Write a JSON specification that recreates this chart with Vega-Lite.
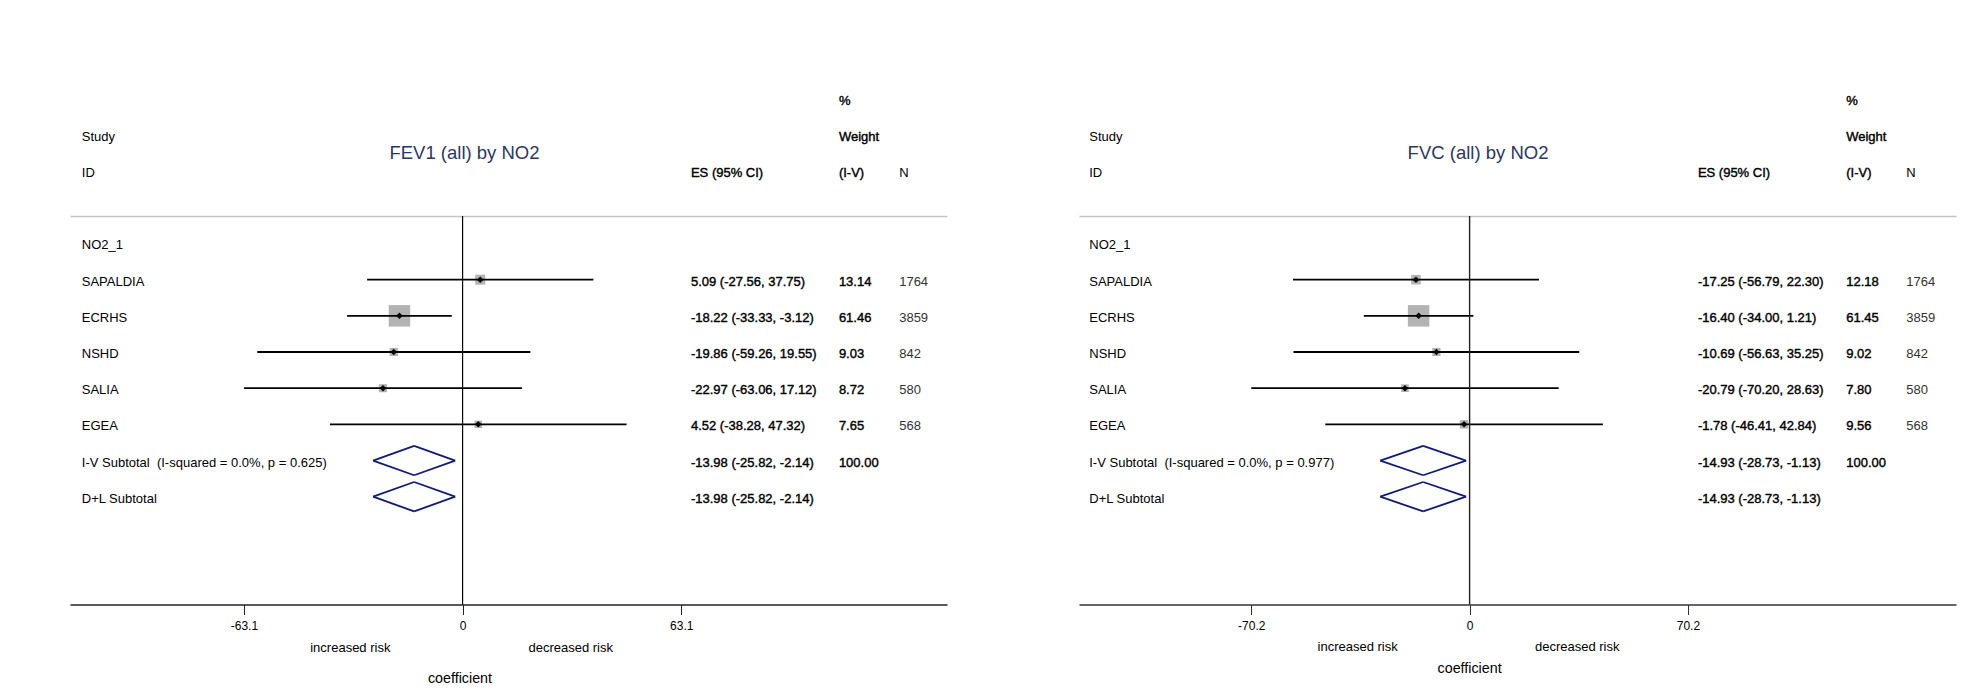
{
  "$schema": "https://vega.github.io/schema/vega-lite/v6.json",
  "padding": {"left": 70, "top": 94, "right": 10, "bottom": 5},
  "spacing": 132,
  "datasets": {
    "fev1": [
      {"row": 1, "label": "NO2_1", "type": "group"},
      {"row": 2, "label": "SAPALDIA", "type": "study", "es": 5.09, "lo": -27.56, "hi": 37.75, "ci": "5.09 (-27.56, 37.75)", "weight": 13.14, "n": 1764},
      {"row": 3, "label": "ECRHS", "type": "study", "es": -18.22, "lo": -33.33, "hi": -3.12, "ci": "-18.22 (-33.33, -3.12)", "weight": 61.46, "n": 3859},
      {"row": 4, "label": "NSHD", "type": "study", "es": -19.86, "lo": -59.26, "hi": 19.55, "ci": "-19.86 (-59.26, 19.55)", "weight": 9.03, "n": 842},
      {"row": 5, "label": "SALIA", "type": "study", "es": -22.97, "lo": -63.06, "hi": 17.12, "ci": "-22.97 (-63.06, 17.12)", "weight": 8.72, "n": 580},
      {"row": 6, "label": "EGEA", "type": "study", "es": 4.52, "lo": -38.28, "hi": 47.32, "ci": "4.52 (-38.28, 47.32)", "weight": 7.65, "n": 568},
      {"row": 7, "label": "I-V Subtotal\u00a0 (I-squared = 0.0%, p = 0.625)", "type": "pooled", "es": -13.98, "lo": -25.82, "hi": -2.14, "ci": "-13.98 (-25.82, -2.14)", "weight": 100.0},
      {"row": 8, "label": "D+L Subtotal", "type": "pooled", "es": -13.98, "lo": -25.82, "hi": -2.14, "ci": "-13.98 (-25.82, -2.14)"}
    ],
    "fvc": [
      {"row": 1, "label": "NO2_1", "type": "group"},
      {"row": 2, "label": "SAPALDIA", "type": "study", "es": -17.25, "lo": -56.79, "hi": 22.30, "ci": "-17.25 (-56.79, 22.30)", "weight": 12.18, "n": 1764},
      {"row": 3, "label": "ECRHS", "type": "study", "es": -16.40, "lo": -34.00, "hi": 1.21, "ci": "-16.40 (-34.00, 1.21)", "weight": 61.45, "n": 3859},
      {"row": 4, "label": "NSHD", "type": "study", "es": -10.69, "lo": -56.63, "hi": 35.25, "ci": "-10.69 (-56.63, 35.25)", "weight": 9.02, "n": 842},
      {"row": 5, "label": "SALIA", "type": "study", "es": -20.79, "lo": -70.20, "hi": 28.63, "ci": "-20.79 (-70.20, 28.63)", "weight": 7.80, "n": 580},
      {"row": 6, "label": "EGEA", "type": "study", "es": -1.78, "lo": -46.41, "hi": 42.84, "ci": "-1.78 (-46.41, 42.84)", "weight": 9.56, "n": 568},
      {"row": 7, "label": "I-V Subtotal\u00a0 (I-squared = 0.0%, p = 0.977)", "type": "pooled", "es": -14.93, "lo": -28.73, "hi": -1.13, "ci": "-14.93 (-28.73, -1.13)", "weight": 100.0},
      {"row": 8, "label": "D+L Subtotal", "type": "pooled", "es": -14.93, "lo": -28.73, "hi": -1.13, "ci": "-14.93 (-28.73, -1.13)"}
    ],
    "headers": [
      {"row": -3, "study": "", "es": "", "w": "%", "n": ""},
      {"row": -2, "study": "Study", "es": "", "w": "Weight", "n": ""},
      {"row": -1, "study": "ID", "es": "ES (95% CI)", "w": "(I-V)", "n": "N"}
    ]
  },
  "hconcat": [
    {
      "width": 877,
      "height": 388.5,
      "data": {"name": "fev1"},
      "resolve": {"axis": {"x": "independent"}},
      "layer": [
        {
          "transform": [{"filter": "datum.type == 'study'"}],
          "mark": {"type": "square", "color": "#b3b3b3", "filled": true, "opacity": 1},
          "encoding": {
            "x": {"field": "es", "type": "quantitative", "scale": {"domain": [-113.3, 139.8], "nice": false, "zero": false}, "axis": null},
            "y": {"field": "row", "type": "quantitative", "scale": {"domain": [0.24, 10.98], "reverse": true, "nice": false, "zero": false}, "axis": null},
            "size": {"field": "weight", "type": "quantitative", "scale": {"type": "linear", "domain": [0, 61.46], "range": [0, 462]}, "legend": null}
          }
        },
        {
          "transform": [{"filter": "datum.type == 'study'"}],
          "mark": {"type": "rule", "color": "#000000", "strokeWidth": 1.8},
          "encoding": {
            "x": {"field": "lo", "type": "quantitative", "scale": {"domain": [-113.3, 139.8], "nice": false, "zero": false},
              "axis": {"values": [-63.1, 0, 63.1], "format": ".1~f", "labelExpr": "replace(datum.label, '\u2212', '-')", "title": null, "grid": false, "domainColor": "#222222", "domainWidth": 1.5, "tickColor": "#222222", "tickSize": 10, "tickWidth": 1, "labelFontSize": 12, "labelColor": "#000000", "labelPadding": 6, "labelFont": "Liberation Sans"}},
            "x2": {"field": "hi"},
            "y": {"field": "row", "type": "quantitative", "scale": {"domain": [0.24, 10.98], "reverse": true, "nice": false, "zero": false}, "axis": null}
          }
        },
        {
          "transform": [{"filter": "datum.type == 'study'"}],
          "mark": {"type": "point", "shape": "diamond", "filled": true, "color": "#000000", "size": 42, "opacity": 1},
          "encoding": {
            "x": {"field": "es", "type": "quantitative", "scale": {"domain": [-113.3, 139.8], "nice": false, "zero": false}, "axis": null},
            "y": {"field": "row", "type": "quantitative", "scale": {"domain": [0.24, 10.98], "reverse": true, "nice": false, "zero": false}, "axis": null}
          }
        },
        {
          "transform": [{"filter": "datum.type == 'pooled'"}],
          "mark": {"type": "rule", "color": "#101a78", "strokeWidth": 1.8, "y2Offset": -14.7},
          "encoding": {
            "x": {"field": "lo", "type": "quantitative", "scale": {"domain": [-113.3, 139.8], "nice": false, "zero": false}, "axis": null},
            "x2": {"field": "es"},
            "y": {"field": "row", "type": "quantitative", "scale": {"domain": [0.24, 10.98], "reverse": true, "nice": false, "zero": false}, "axis": null},
            "y2": {"field": "row"}
          }
        },
        {
          "transform": [{"filter": "datum.type == 'pooled'"}],
          "mark": {"type": "rule", "color": "#101a78", "strokeWidth": 1.8, "y2Offset": 14.7},
          "encoding": {
            "x": {"field": "lo", "type": "quantitative", "scale": {"domain": [-113.3, 139.8], "nice": false, "zero": false}, "axis": null},
            "x2": {"field": "es"},
            "y": {"field": "row", "type": "quantitative", "scale": {"domain": [0.24, 10.98], "reverse": true, "nice": false, "zero": false}, "axis": null},
            "y2": {"field": "row"}
          }
        },
        {
          "transform": [{"filter": "datum.type == 'pooled'"}],
          "mark": {"type": "rule", "color": "#101a78", "strokeWidth": 1.8, "yOffset": -14.7},
          "encoding": {
            "x": {"field": "es", "type": "quantitative", "scale": {"domain": [-113.3, 139.8], "nice": false, "zero": false}, "axis": null},
            "x2": {"field": "hi"},
            "y": {"field": "row", "type": "quantitative", "scale": {"domain": [0.24, 10.98], "reverse": true, "nice": false, "zero": false}, "axis": null},
            "y2": {"field": "row"}
          }
        },
        {
          "transform": [{"filter": "datum.type == 'pooled'"}],
          "mark": {"type": "rule", "color": "#101a78", "strokeWidth": 1.8, "yOffset": 14.7},
          "encoding": {
            "x": {"field": "es", "type": "quantitative", "scale": {"domain": [-113.3, 139.8], "nice": false, "zero": false}, "axis": null},
            "x2": {"field": "hi"},
            "y": {"field": "row", "type": "quantitative", "scale": {"domain": [0.24, 10.98], "reverse": true, "nice": false, "zero": false}, "axis": null},
            "y2": {"field": "row"}
          }
        },
        {
          "data": {"values": [{}]},
          "mark": {"type": "rule", "color": "#000000", "strokeWidth": 1.2},
          "encoding": {
            "x": {"datum": 0, "type": "quantitative", "scale": {"domain": [-113.3, 139.8], "nice": false, "zero": false},
              "axis": {"orient": "top", "domain": true, "domainColor": "#c4c4c4", "domainWidth": 1.5, "ticks": false, "labels": false, "grid": false, "title": null}}
          }
        },
        {
          "mark": {"type": "text", "align": "left", "baseline": "middle", "dy": 2, "fontSize": 13, "color": "#000000"},
          "encoding": {
            "x": {"datum": -109.9, "type": "quantitative", "scale": {"domain": [-113.3, 139.8], "nice": false, "zero": false}, "axis": null},
            "y": {"field": "row", "type": "quantitative", "scale": {"domain": [0.24, 10.98], "reverse": true, "nice": false, "zero": false}, "axis": null},
            "text": {"field": "label", "type": "nominal"}
          }
        },
        {
          "transform": [{"filter": "isValid(datum.ci)"}],
          "mark": {"type": "text", "align": "left", "baseline": "middle", "dy": 2, "fontSize": 13, "color": "#000000", "stroke": "#000000", "strokeWidth": 0.4},
          "encoding": {
            "x": {"datum": 65.9, "type": "quantitative", "scale": {"domain": [-113.3, 139.8], "nice": false, "zero": false}, "axis": null},
            "y": {"field": "row", "type": "quantitative", "scale": {"domain": [0.24, 10.98], "reverse": true, "nice": false, "zero": false}, "axis": null},
            "text": {"field": "ci", "type": "nominal"}
          }
        },
        {
          "transform": [{"filter": "isValid(datum.weight)"}],
          "mark": {"type": "text", "align": "left", "baseline": "middle", "dy": 2, "fontSize": 13, "color": "#000000", "stroke": "#000000", "strokeWidth": 0.4},
          "encoding": {
            "x": {"datum": 108.6, "type": "quantitative", "scale": {"domain": [-113.3, 139.8], "nice": false, "zero": false}, "axis": null},
            "y": {"field": "row", "type": "quantitative", "scale": {"domain": [0.24, 10.98], "reverse": true, "nice": false, "zero": false}, "axis": null},
            "text": {"field": "weight", "type": "quantitative", "format": ".2f"}
          }
        },
        {
          "transform": [{"filter": "isValid(datum.n)"}],
          "mark": {"type": "text", "align": "left", "baseline": "middle", "dy": 2, "fontSize": 13, "color": "#333333"},
          "encoding": {
            "x": {"datum": 126.0, "type": "quantitative", "scale": {"domain": [-113.3, 139.8], "nice": false, "zero": false}, "axis": null},
            "y": {"field": "row", "type": "quantitative", "scale": {"domain": [0.24, 10.98], "reverse": true, "nice": false, "zero": false}, "axis": null},
            "text": {"field": "n", "type": "quantitative", "format": "d"}
          }
        },
        {
          "data": {"name": "headers"},
          "mark": {"type": "text", "align": "left", "baseline": "middle", "dy": 2, "fontSize": 13, "color": "#000000"},
          "encoding": {
            "x": {"datum": -109.9, "type": "quantitative", "scale": {"domain": [-113.3, 139.8], "nice": false, "zero": false}, "axis": null},
            "y": {"field": "row", "type": "quantitative", "scale": {"domain": [0.24, 10.98], "reverse": true, "nice": false, "zero": false}, "axis": null},
            "text": {"field": "study", "type": "nominal"}
          }
        },
        {
          "data": {"name": "headers"},
          "mark": {"type": "text", "align": "left", "baseline": "middle", "dy": 2, "fontSize": 13, "color": "#000000", "stroke": "#000000", "strokeWidth": 0.4},
          "encoding": {
            "x": {"datum": 65.9, "type": "quantitative", "scale": {"domain": [-113.3, 139.8], "nice": false, "zero": false}, "axis": null},
            "y": {"field": "row", "type": "quantitative", "scale": {"domain": [0.24, 10.98], "reverse": true, "nice": false, "zero": false}, "axis": null},
            "text": {"field": "es", "type": "nominal"}
          }
        },
        {
          "data": {"name": "headers"},
          "mark": {"type": "text", "align": "left", "baseline": "middle", "dy": 2, "fontSize": 13, "color": "#000000", "stroke": "#000000", "strokeWidth": 0.4},
          "encoding": {
            "x": {"datum": 108.6, "type": "quantitative", "scale": {"domain": [-113.3, 139.8], "nice": false, "zero": false}, "axis": null},
            "y": {"field": "row", "type": "quantitative", "scale": {"domain": [0.24, 10.98], "reverse": true, "nice": false, "zero": false}, "axis": null},
            "text": {"field": "w", "type": "nominal"}
          }
        },
        {
          "data": {"name": "headers"},
          "mark": {"type": "text", "align": "left", "baseline": "middle", "dy": 2, "fontSize": 13, "color": "#000000"},
          "encoding": {
            "x": {"datum": 126.0, "type": "quantitative", "scale": {"domain": [-113.3, 139.8], "nice": false, "zero": false}, "axis": null},
            "y": {"field": "row", "type": "quantitative", "scale": {"domain": [0.24, 10.98], "reverse": true, "nice": false, "zero": false}, "axis": null},
            "text": {"field": "n", "type": "nominal"}
          }
        },
        {
          "data": {"values": [{}]},
          "mark": {"type": "text", "text": "FEV1 (all) by NO2", "align": "center", "baseline": "middle", "fontSize": 18.5, "color": "#2a3766"},
          "encoding": {
            "x": {"datum": 0.55, "type": "quantitative", "scale": {"domain": [-113.3, 139.8], "nice": false, "zero": false}, "axis": null},
            "y": {"datum": -1.5, "type": "quantitative", "scale": {"domain": [0.24, 10.98], "reverse": true, "nice": false, "zero": false}, "axis": null}
          }
        },
        {
          "data": {"values": [{}]},
          "mark": {"type": "text", "text": "increased risk", "align": "center", "baseline": "middle", "dy": 2, "fontSize": 13, "color": "#000000"},
          "encoding": {
            "x": {"datum": -32.4, "type": "quantitative", "scale": {"domain": [-113.3, 139.8], "nice": false, "zero": false}, "axis": null},
            "y": {"datum": 12.14, "type": "quantitative", "scale": {"domain": [0.24, 10.98], "reverse": true, "nice": false, "zero": false}, "axis": null}
          }
        },
        {
          "data": {"values": [{}]},
          "mark": {"type": "text", "text": "decreased risk", "align": "center", "baseline": "middle", "dy": 2, "fontSize": 13, "color": "#000000"},
          "encoding": {
            "x": {"datum": 31.2, "type": "quantitative", "scale": {"domain": [-113.3, 139.8], "nice": false, "zero": false}, "axis": null},
            "y": {"datum": 12.14, "type": "quantitative", "scale": {"domain": [0.24, 10.98], "reverse": true, "nice": false, "zero": false}, "axis": null}
          }
        },
        {
          "data": {"values": [{}]},
          "mark": {"type": "text", "text": "coefficient", "align": "center", "baseline": "middle", "dy": 2, "fontSize": 14.3, "color": "#000000"},
          "encoding": {
            "x": {"datum": -0.75, "type": "quantitative", "scale": {"domain": [-113.3, 139.8], "nice": false, "zero": false}, "axis": null},
            "y": {"datum": 12.99, "type": "quantitative", "scale": {"domain": [0.24, 10.98], "reverse": true, "nice": false, "zero": false}, "axis": null}
          }
        }
      ]
    },
    {
      "width": 877,
      "height": 388.5,
      "data": {"name": "fvc"},
      "resolve": {"axis": {"x": "independent"}},
      "layer": [
        {
          "transform": [{"filter": "datum.type == 'study'"}],
          "mark": {"type": "square", "color": "#b3b3b3", "filled": true, "opacity": 1},
          "encoding": {
            "x": {"field": "es", "type": "quantitative", "scale": {"domain": [-125.6, 156.4], "nice": false, "zero": false}, "axis": null},
            "y": {"field": "row", "type": "quantitative", "scale": {"domain": [0.24, 10.98], "reverse": true, "nice": false, "zero": false}, "axis": null},
            "size": {"field": "weight", "type": "quantitative", "scale": {"type": "linear", "domain": [0, 61.46], "range": [0, 462]}, "legend": null}
          }
        },
        {
          "transform": [{"filter": "datum.type == 'study'"}],
          "mark": {"type": "rule", "color": "#000000", "strokeWidth": 1.8},
          "encoding": {
            "x": {"field": "lo", "type": "quantitative", "scale": {"domain": [-125.6, 156.4], "nice": false, "zero": false},
              "axis": {"values": [-70.2, 0, 70.2], "format": ".1~f", "labelExpr": "replace(datum.label, '\u2212', '-')", "title": null, "grid": false, "domainColor": "#333333", "domainWidth": 1.6, "tickColor": "#333333", "tickSize": 10, "tickWidth": 1, "labelFontSize": 12, "labelColor": "#000000", "labelPadding": 6, "labelFont": "Liberation Sans"}},
            "x2": {"field": "hi"},
            "y": {"field": "row", "type": "quantitative", "scale": {"domain": [0.24, 10.98], "reverse": true, "nice": false, "zero": false}, "axis": null}
          }
        },
        {
          "transform": [{"filter": "datum.type == 'study'"}],
          "mark": {"type": "point", "shape": "diamond", "filled": true, "color": "#000000", "size": 42, "opacity": 1},
          "encoding": {
            "x": {"field": "es", "type": "quantitative", "scale": {"domain": [-125.6, 156.4], "nice": false, "zero": false}, "axis": null},
            "y": {"field": "row", "type": "quantitative", "scale": {"domain": [0.24, 10.98], "reverse": true, "nice": false, "zero": false}, "axis": null}
          }
        },
        {
          "transform": [{"filter": "datum.type == 'pooled'"}],
          "mark": {"type": "rule", "color": "#101a78", "strokeWidth": 1.8, "y2Offset": -14.7},
          "encoding": {
            "x": {"field": "lo", "type": "quantitative", "scale": {"domain": [-125.6, 156.4], "nice": false, "zero": false}, "axis": null},
            "x2": {"field": "es"},
            "y": {"field": "row", "type": "quantitative", "scale": {"domain": [0.24, 10.98], "reverse": true, "nice": false, "zero": false}, "axis": null},
            "y2": {"field": "row"}
          }
        },
        {
          "transform": [{"filter": "datum.type == 'pooled'"}],
          "mark": {"type": "rule", "color": "#101a78", "strokeWidth": 1.8, "y2Offset": 14.7},
          "encoding": {
            "x": {"field": "lo", "type": "quantitative", "scale": {"domain": [-125.6, 156.4], "nice": false, "zero": false}, "axis": null},
            "x2": {"field": "es"},
            "y": {"field": "row", "type": "quantitative", "scale": {"domain": [0.24, 10.98], "reverse": true, "nice": false, "zero": false}, "axis": null},
            "y2": {"field": "row"}
          }
        },
        {
          "transform": [{"filter": "datum.type == 'pooled'"}],
          "mark": {"type": "rule", "color": "#101a78", "strokeWidth": 1.8, "yOffset": -14.7},
          "encoding": {
            "x": {"field": "es", "type": "quantitative", "scale": {"domain": [-125.6, 156.4], "nice": false, "zero": false}, "axis": null},
            "x2": {"field": "hi"},
            "y": {"field": "row", "type": "quantitative", "scale": {"domain": [0.24, 10.98], "reverse": true, "nice": false, "zero": false}, "axis": null},
            "y2": {"field": "row"}
          }
        },
        {
          "transform": [{"filter": "datum.type == 'pooled'"}],
          "mark": {"type": "rule", "color": "#101a78", "strokeWidth": 1.8, "yOffset": 14.7},
          "encoding": {
            "x": {"field": "es", "type": "quantitative", "scale": {"domain": [-125.6, 156.4], "nice": false, "zero": false}, "axis": null},
            "x2": {"field": "hi"},
            "y": {"field": "row", "type": "quantitative", "scale": {"domain": [0.24, 10.98], "reverse": true, "nice": false, "zero": false}, "axis": null},
            "y2": {"field": "row"}
          }
        },
        {
          "data": {"values": [{}]},
          "mark": {"type": "rule", "color": "#222222", "strokeWidth": 1.4},
          "encoding": {
            "x": {"datum": 0, "type": "quantitative", "scale": {"domain": [-125.6, 156.4], "nice": false, "zero": false},
              "axis": {"orient": "top", "domain": true, "domainColor": "#c4c4c4", "domainWidth": 1.5, "ticks": false, "labels": false, "grid": false, "title": null}}
          }
        },
        {
          "mark": {"type": "text", "align": "left", "baseline": "middle", "dy": 2, "fontSize": 13, "color": "#000000"},
          "encoding": {
            "x": {"datum": -122.3, "type": "quantitative", "scale": {"domain": [-125.6, 156.4], "nice": false, "zero": false}, "axis": null},
            "y": {"field": "row", "type": "quantitative", "scale": {"domain": [0.24, 10.98], "reverse": true, "nice": false, "zero": false}, "axis": null},
            "text": {"field": "label", "type": "nominal"}
          }
        },
        {
          "transform": [{"filter": "isValid(datum.ci)"}],
          "mark": {"type": "text", "align": "left", "baseline": "middle", "dy": 2, "fontSize": 13, "color": "#000000", "stroke": "#000000", "strokeWidth": 0.4},
          "encoding": {
            "x": {"datum": 73.4, "type": "quantitative", "scale": {"domain": [-125.6, 156.4], "nice": false, "zero": false}, "axis": null},
            "y": {"field": "row", "type": "quantitative", "scale": {"domain": [0.24, 10.98], "reverse": true, "nice": false, "zero": false}, "axis": null},
            "text": {"field": "ci", "type": "nominal"}
          }
        },
        {
          "transform": [{"filter": "isValid(datum.weight)"}],
          "mark": {"type": "text", "align": "left", "baseline": "middle", "dy": 2, "fontSize": 13, "color": "#000000", "stroke": "#000000", "strokeWidth": 0.4},
          "encoding": {
            "x": {"datum": 121.1, "type": "quantitative", "scale": {"domain": [-125.6, 156.4], "nice": false, "zero": false}, "axis": null},
            "y": {"field": "row", "type": "quantitative", "scale": {"domain": [0.24, 10.98], "reverse": true, "nice": false, "zero": false}, "axis": null},
            "text": {"field": "weight", "type": "quantitative", "format": ".2f"}
          }
        },
        {
          "transform": [{"filter": "isValid(datum.n)"}],
          "mark": {"type": "text", "align": "left", "baseline": "middle", "dy": 2, "fontSize": 13, "color": "#333333"},
          "encoding": {
            "x": {"datum": 140.4, "type": "quantitative", "scale": {"domain": [-125.6, 156.4], "nice": false, "zero": false}, "axis": null},
            "y": {"field": "row", "type": "quantitative", "scale": {"domain": [0.24, 10.98], "reverse": true, "nice": false, "zero": false}, "axis": null},
            "text": {"field": "n", "type": "quantitative", "format": "d"}
          }
        },
        {
          "data": {"name": "headers"},
          "mark": {"type": "text", "align": "left", "baseline": "middle", "dy": 2, "fontSize": 13, "color": "#000000"},
          "encoding": {
            "x": {"datum": -122.3, "type": "quantitative", "scale": {"domain": [-125.6, 156.4], "nice": false, "zero": false}, "axis": null},
            "y": {"field": "row", "type": "quantitative", "scale": {"domain": [0.24, 10.98], "reverse": true, "nice": false, "zero": false}, "axis": null},
            "text": {"field": "study", "type": "nominal"}
          }
        },
        {
          "data": {"name": "headers"},
          "mark": {"type": "text", "align": "left", "baseline": "middle", "dy": 2, "fontSize": 13, "color": "#000000", "stroke": "#000000", "strokeWidth": 0.4},
          "encoding": {
            "x": {"datum": 73.4, "type": "quantitative", "scale": {"domain": [-125.6, 156.4], "nice": false, "zero": false}, "axis": null},
            "y": {"field": "row", "type": "quantitative", "scale": {"domain": [0.24, 10.98], "reverse": true, "nice": false, "zero": false}, "axis": null},
            "text": {"field": "es", "type": "nominal"}
          }
        },
        {
          "data": {"name": "headers"},
          "mark": {"type": "text", "align": "left", "baseline": "middle", "dy": 2, "fontSize": 13, "color": "#000000", "stroke": "#000000", "strokeWidth": 0.4},
          "encoding": {
            "x": {"datum": 121.1, "type": "quantitative", "scale": {"domain": [-125.6, 156.4], "nice": false, "zero": false}, "axis": null},
            "y": {"field": "row", "type": "quantitative", "scale": {"domain": [0.24, 10.98], "reverse": true, "nice": false, "zero": false}, "axis": null},
            "text": {"field": "w", "type": "nominal"}
          }
        },
        {
          "data": {"name": "headers"},
          "mark": {"type": "text", "align": "left", "baseline": "middle", "dy": 2, "fontSize": 13, "color": "#000000"},
          "encoding": {
            "x": {"datum": 140.4, "type": "quantitative", "scale": {"domain": [-125.6, 156.4], "nice": false, "zero": false}, "axis": null},
            "y": {"field": "row", "type": "quantitative", "scale": {"domain": [0.24, 10.98], "reverse": true, "nice": false, "zero": false}, "axis": null},
            "text": {"field": "n", "type": "nominal"}
          }
        },
        {
          "data": {"values": [{}]},
          "mark": {"type": "text", "text": "FVC (all) by NO2", "align": "center", "baseline": "middle", "fontSize": 18.5, "color": "#2a3766"},
          "encoding": {
            "x": {"datum": 2.7, "type": "quantitative", "scale": {"domain": [-125.6, 156.4], "nice": false, "zero": false}, "axis": null},
            "y": {"datum": -1.5, "type": "quantitative", "scale": {"domain": [0.24, 10.98], "reverse": true, "nice": false, "zero": false}, "axis": null}
          }
        },
        {
          "data": {"values": [{}]},
          "mark": {"type": "text", "text": "increased risk", "align": "center", "baseline": "middle", "dy": 2, "fontSize": 13, "color": "#000000"},
          "encoding": {
            "x": {"datum": -36.0, "type": "quantitative", "scale": {"domain": [-125.6, 156.4], "nice": false, "zero": false}, "axis": null},
            "y": {"datum": 12.1, "type": "quantitative", "scale": {"domain": [0.24, 10.98], "reverse": true, "nice": false, "zero": false}, "axis": null}
          }
        },
        {
          "data": {"values": [{}]},
          "mark": {"type": "text", "text": "decreased risk", "align": "center", "baseline": "middle", "dy": 2, "fontSize": 13, "color": "#000000"},
          "encoding": {
            "x": {"datum": 34.6, "type": "quantitative", "scale": {"domain": [-125.6, 156.4], "nice": false, "zero": false}, "axis": null},
            "y": {"datum": 12.1, "type": "quantitative", "scale": {"domain": [0.24, 10.98], "reverse": true, "nice": false, "zero": false}, "axis": null}
          }
        },
        {
          "data": {"values": [{}]},
          "mark": {"type": "text", "text": "coefficient", "align": "center", "baseline": "middle", "dy": 2, "fontSize": 14.3, "color": "#000000"},
          "encoding": {
            "x": {"datum": 0, "type": "quantitative", "scale": {"domain": [-125.6, 156.4], "nice": false, "zero": false}, "axis": null},
            "y": {"datum": 12.72, "type": "quantitative", "scale": {"domain": [0.24, 10.98], "reverse": true, "nice": false, "zero": false}, "axis": null}
          }
        }
      ]
    }
  ],
  "config": {
    "font": "Liberation Sans",
    "view": {"stroke": null},
    "text": {"font": "Liberation Sans"},
    "axis": {"labelFont": "Liberation Sans", "titleFont": "Liberation Sans"}
  }
}
